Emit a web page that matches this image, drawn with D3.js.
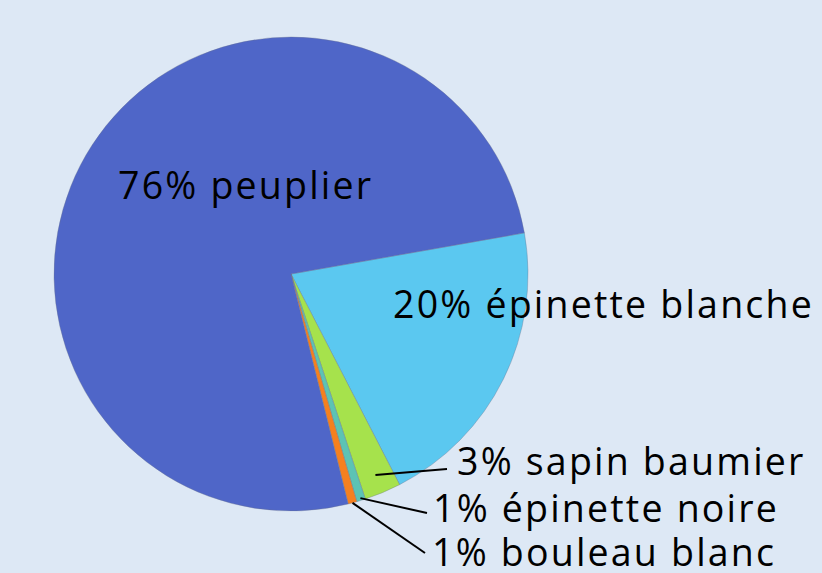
<!DOCTYPE html>
<html>
<head>
<meta charset="utf-8">
<script src="https://cdn.jsdelivr.net/npm/d3@7"></script>
<style>
  html, body { margin: 0; padding: 0; background: #dde8f5; }
  text { font-family: "Open Sans", sans-serif; fill: #000; font-variant-ligatures: none; }
</style>
</head>
<body>
<script>
// slices, clockwise starting at the top edge of "épinette blanche"
const species = ["épinette blanche", "sapin baumier", "épinette noire", "bouleau blanc", "peuplier"];
const shares  = [20.2, 2.5, 0.6, 0.6, 76.1];
const labels  = ["20% épinette blanche", "3% sapin baumier", "1% épinette noire", "1% bouleau blanc", "76% peuplier"];
const colors  = ["#5bc8f0", "#a6e24c", "#5cc3b4", "#f5801f", "#4f66c8"];

const width  = 822;
const height = 573;
const cx = 291, cy = 274, radius = 237;
const startDeg = 80;

const svg = d3.select("body")
    .append("svg")
    .attr("width", width)
    .attr("height", height);

const rows = species.map((s, i) => ({name: s, value: shares[i], label: labels[i], color: colors[i]}));

const pie = d3.pie()
    .sort(null)
    .value(d => d.value)
    .startAngle(startDeg * Math.PI / 180)
    .endAngle((startDeg + 360) * Math.PI / 180);

const arcs = pie(rows);
const arc = d3.arc().innerRadius(0).outerRadius(radius);

const g = svg.append("g").attr("transform", `translate(${cx},${cy})`);

g.selectAll("path.slice")
    .data(arcs)
  .enter().append("path")
    .attr("class", "slice")
    .attr("d", arc)
    .style("fill", d => d.data.color)
    .style("stroke", "#6a7390")
    .style("stroke-width", "0.6px")
    .style("stroke-opacity", 0.6);

// label placement (x start, baseline) and leader line targets
const place = {
    "épinette blanche": {x: 393, y: 318},
    "sapin baumier":    {x: 457, y: 475, lx: 447, ly: 469, r: 0.92},
    "épinette noire":   {x: 433, y: 522, lx: 427, ly: 513, r: 0.99},
    "bouleau blanc":    {x: 432, y: 566, lx: 425, ly: 553, r: 1.0},
    "peuplier":         {x: 118, y: 199}
};

function pointOn(d, r) {
    const a = (d.startAngle + d.endAngle) / 2;
    return [cx + Math.sin(a) * radius * r, cy - Math.cos(a) * radius * r];
}

arcs.forEach(function(d) {
    const p = place[d.data.name];
    if (p.lx !== undefined) {
        const [x0, y0] = pointOn(d, p.r);
        svg.append("line")
            .attr("x1", x0).attr("y1", y0)
            .attr("x2", p.lx).attr("y2", p.ly)
            .style("stroke", "#000")
            .style("stroke-width", "2px");
    }
    svg.append("text")
        .attr("x", p.x)
        .attr("y", p.y)
        .style("font-size", "37.5px")
        .style("letter-spacing", "2.2px")
        .text(d.data.label);
});
</script>
</body>
</html>
